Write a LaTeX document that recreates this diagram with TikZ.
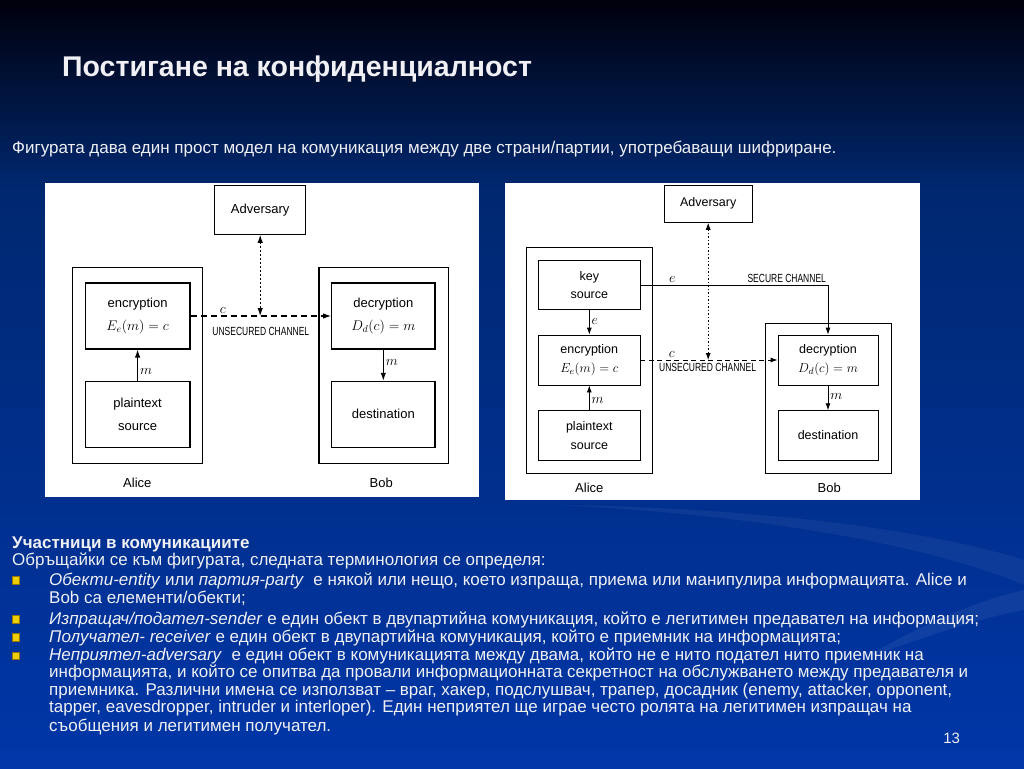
\RequirePackage{fix-cm}
\documentclass[tikz,border=0pt]{standalone}
\usepackage{fontspec}
\setmainfont{Liberation Sans}
\newfontfamily\condfont{Liberation Sans}[FakeStretch=0.72]
\DeclareMathSizes{13}{14}{10}{8}
\DeclareMathSizes{12.5}{13}{9.5}{7.5}
\usetikzlibrary{positioning,arrows.meta,calc}
\definecolor{slidetop}{RGB}{0,0,12}
\definecolor{slidemid}{RGB}{0,40,112}
\definecolor{slidebot}{RGB}{0,54,168}
\definecolor{slidetext}{RGB}{240,240,245}
\definecolor{bulletyel}{RGB}{240,205,0}

\begin{document}
\begin{tikzpicture}[x=1pt, y=-1pt,
  lbox/.style={rectangle, draw=black, line width=1.1pt, align=center, inner sep=0pt,
               font=\fontsize{13}{23.5}\selectfont},
  rbox/.style={rectangle, draw=black, line width=0.8pt, align=center, inner sep=0pt,
               font=\fontsize{12.5}{18.5}\selectfont},
  lar/.style={-{Latex[length=8pt,width=5.5pt]}, line width=1.1pt},
  rar/.style={-{Latex[length=7pt,width=5pt]}, line width=0.8pt},
  ldots/.style={{Latex[length=8pt,width=5.5pt]}-{Latex[length=8pt,width=5.5pt]}, line width=1.1pt,
                dash pattern=on 1.5pt off 2.5pt},
  rdots/.style={{Latex[length=7pt,width=5pt]}-{Latex[length=7pt,width=5pt]}, line width=0.8pt,
                dash pattern=on 1.2pt off 2.3pt},
  chan/.style={font=\condfont\fontsize{11.8}{13}\selectfont, inner sep=2pt},
  lbl/.style={font=\fontsize{13}{15}\selectfont, inner sep=2pt},
  txt/.style={anchor=base west, inner sep=0pt, text=slidetext, font=\fontsize{17}{19}\selectfont},
  bul/.style={rectangle, fill=bulletyel, draw=bulletyel!60!black, line width=0.5pt,
              minimum size=7.5pt, inner sep=0pt}
]
% Background
\shade[top color=slidetop, bottom color=slidemid] (0,0) rectangle (1024,190);
\shade[top color=slidemid, bottom color=slidebot] (0,190) rectangle (1024,768);
\useasboundingbox (0,0) rectangle (1024,768);
% faint swooshes
\fill[white, opacity=0.05] (560,505) .. controls (760,515) and (930,545) .. (1024,585)
      -- (1024,560) .. controls (930,530) and (760,508) .. (560,505);
\fill[white, opacity=0.06] (860,660) .. controls (930,620) and (980,600) .. (1024,590)
      -- (1024,610) .. controls (980,618) and (930,635) .. (860,660);

% Title and intro line
\node[anchor=base west, inner sep=0pt, text=slidetext,
      font=\bfseries\fontsize{28.5}{32}\selectfont] (title) at (62,77) {Постигане на конфиденциалност};
\node[anchor=base west, inner sep=0pt, text=slidetext,
      font=\fontsize{17}{19}\selectfont] (intro) at (12,153)
      {Фигурата дава един прост модел на комуникация между две страни/партии, употребаващи шифриране.};

% ---- Left figure: public key model ----
\fill[white] (45,183) rectangle (479,497);
\node[lbox, minimum width=91pt, minimum height=48.6pt]    (advL)   at (260.2,210)   {Adversary};
\node[lbox, minimum width=129.6pt, minimum height=196pt]  (aliceL) at (137.5,365.3) {};
\node[lbox, minimum width=104.7pt, minimum height=66pt]   (encL)   at (137.6,316)   {encryption\\$E_e(m)=c$};
\node[lbox, minimum width=104.7pt, minimum height=66pt]   (srcL)   at (137.6,414.3) {plaintext\\source};
\node[lbox, minimum width=129.7pt, minimum height=196pt]  (bobL)   at (383.8,365.3) {};
\node[lbox, minimum width=103.3pt, minimum height=66pt]   (decL)   at (383.3,316)   {decryption\\$D_d(c)=m$};
\node[lbox, minimum width=103.3pt, minimum height=66pt]   (dstL)   at (383.3,414.3) {destination};
\node[lbl] (aliceLname) at (137.3,482.7) {Alice};
\node[lbl] (bobLname)   at (381.3,482.7) {Bob};

\draw[lar, dash pattern=on 6pt off 4pt] (encL.east) -- node[pos=0.23, above, lbl] {$c$}
                   node[pos=0.5, below=9pt, chan] {UNSECURED CHANNEL} (decL.west);
\draw[ldots] (advL.south) -- (advL.south |- encL.east);
\draw[lar] (srcL.north) -- node[pos=0.3, right, lbl] {$m$} (encL.south);
\draw[lar] (decL.south) -- node[pos=0.42, right, lbl] {$m$} (dstL.north);

% ---- Right figure: symmetric key model ----
\fill[white] (505,183) rectangle (920,500);
\node[rbox, minimum width=88.3pt, minimum height=37.3pt]  (advR)   at (708.2,203.7) {Adversary};
\node[rbox, minimum width=125.6pt, minimum height=225.6pt] (aliceR) at (589.5,360.5) {};
\node[rbox, minimum width=101.3pt, minimum height=49.4pt] (keyR)   at (589.3,285)   {key\\source};
\node[rbox, minimum width=101.3pt, minimum height=50pt]   (encR)   at (589.3,360)   {encryption\\$E_e(m)=c$};
\node[rbox, minimum width=101.3pt, minimum height=49.3pt] (srcR)   at (589.3,435.3) {plaintext\\source};
\node[rbox, minimum width=125.6pt, minimum height=150pt]  (bobR)   at (828.5,398.3) {};
\node[rbox, minimum width=100pt, minimum height=50pt]     (decR)   at (828,360)     {decryption\\$D_d(c)=m$};
\node[rbox, minimum width=100pt, minimum height=49.3pt]   (dstR)   at (828,435.3)   {destination};
\node[lbl] (aliceRname) at (589.3,488.3) {Alice};
\node[lbl] (bobRname)   at (829.3,488.3) {Bob};
\coordinate (secR) at (decR.north |- keyR.east);

\draw[rar] (keyR.east) -- node[pos=0.17, above, lbl] {$e$}
                          node[pos=0.78, above, chan] {SECURE CHANNEL} (secR) -- (decR.north);
\draw[rar, dash pattern=on 5pt off 3.5pt] (encR.east) -- node[pos=0.23, above, lbl] {$c$}
                   node[pos=0.49, below=1pt, chan] {UNSECURED CHANNEL} (decR.west);
\draw[rdots] (advR.south) -- (advR.south |- encR.east);
\draw[rar] (keyR.south) -- node[pos=0.47, right, lbl] {$e$} (encR.north);
\draw[rar] (srcR.north) -- node[pos=0.39, right, lbl] {$m$} (encR.south);
\draw[rar] (decR.south) -- node[pos=0.45, right, lbl] {$m$} (dstR.north);

% ---- Terminology text ----
\node[txt, font=\bfseries\fontsize{17}{19}\selectfont] (head) at (12,548) {Участници в комуникациите};
\node[txt] (lead) at (12,565) {Обръщайки се към фигурата, следната терминология се определя:};
\node[bul] (b1) at (15.7,580)   {};
\node[bul] (b2) at (15.7,619.3) {};
\node[bul] (b3) at (15.7,637.3) {};
\node[bul] (b4) at (15.7,655.7) {};
\node[txt] (t1a) at (49,585)   {\textit{Обекти-entity} или \textit{партия-party}\ \ е някой или нещо, което изпраща, приема или манипулира информацията. Alice и};
\node[txt] (t1b) at (49,603.3) {Bob са елементи/обекти;};
\node[txt] (t2)  at (49,624.3) {\textit{Изпращач/подател-sender} е един обект в двупартийна комуникация, който е легитимен предавател на информация;};
\node[txt] (t3)  at (49,642.3) {\textit{Получател- receiver} е един обект в двупартийна комуникация, който е приемник на информацията;};
\node[txt] (t4a) at (49,660.7) {\textit{Неприятел-adversary}\ \ е един обект в комуникацията между двама, който не е нито подател нито приемник на};
\node[txt] (t4b) at (49,677.7) {информацията, и който се опитва да провали информационната секретност на обслужването между предавателя и};
\node[txt] (t4c) at (49,695)   {приемника. Различни имена се използват – враг, хакер, подслушвач, трапер, досадник (enemy, attacker, opponent,};
\node[txt] (t4d) at (49,712.3) {tapper, eavesdropper, intruder и interloper). Един неприятел ще играе често ролята на легитимен изпращач на};
\node[txt] (t4e) at (49,731)   {съобщения и легитимен получател.};
\node[text=slidetext, font=\fontsize{15}{17}\selectfont, inner sep=0pt] (pnum) at (951.7,738.3) {13};
\end{tikzpicture}
\end{document}
